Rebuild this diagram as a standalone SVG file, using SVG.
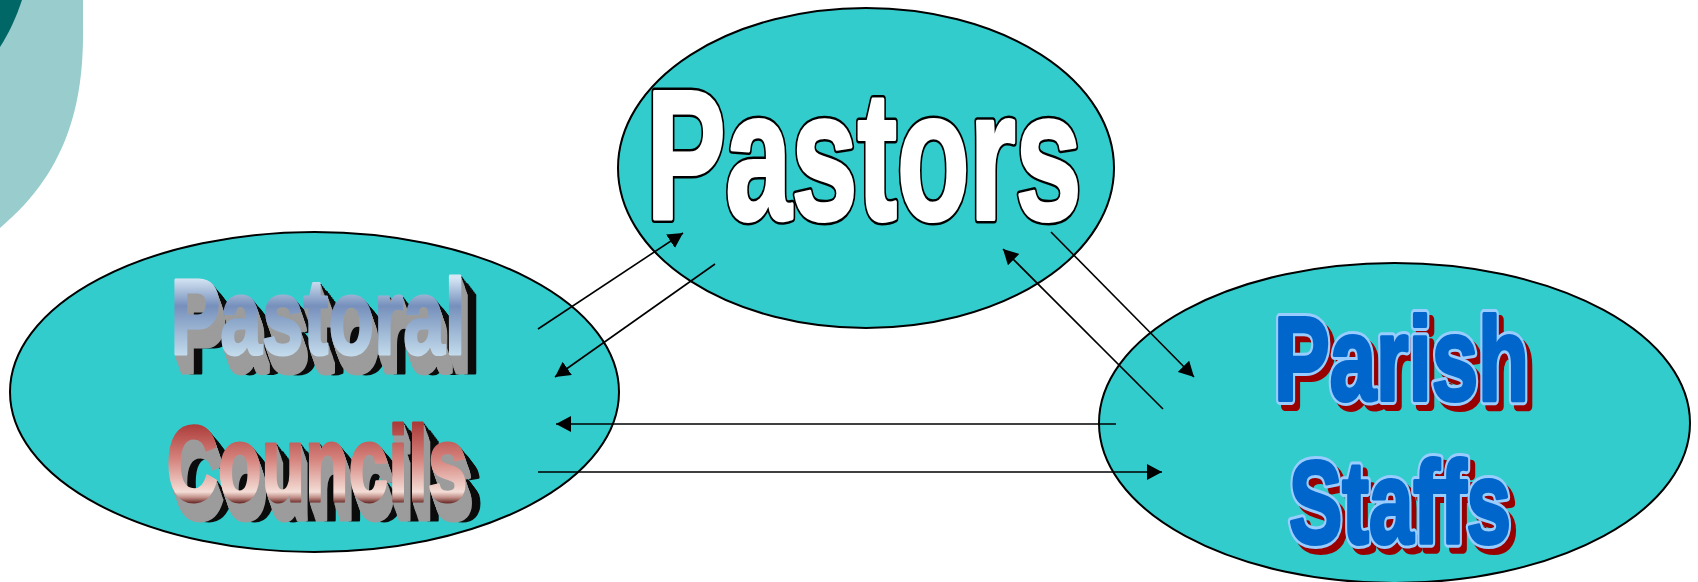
<svg xmlns="http://www.w3.org/2000/svg" xmlns:xlink="http://www.w3.org/1999/xlink" width="1698" height="582" viewBox="0 0 1698 582">
  <style>
    .node { fill: #33cccc; stroke: #000; stroke-width: 2; }
    .link { stroke: #000; stroke-width: 1.6; fill: none; marker-end: url(#head); }
    .heavy { font-family: "Liberation Sans", Arial, sans-serif; font-weight: bold; stroke-linejoin: round; }
    .ext-dark { fill: #0c0c0c; stroke: #0c0c0c; stroke-width: 3; }
    .ext-grey { fill: #9c9c9c; stroke: #9c9c9c; stroke-width: 3; }
    .staff-rim { fill: #99ccff; stroke: #99ccff; stroke-width: 10; }
    .staff-body { fill: #0066cc; stroke: #0066cc; stroke-width: 4; }
    .staff-shadow { fill: #990000; stroke: #990000; stroke-width: 10; }
  </style>
  <defs>
    <marker id="head" markerUnits="userSpaceOnUse" markerWidth="16" markerHeight="16" refX="15" refY="8" orient="auto">
      <path d="M0,0 L15,8 L0,16 Z" fill="#000"/>
    </marker>
    <linearGradient id="gPastoral" gradientUnits="userSpaceOnUse" x1="0" y1="278" x2="0" y2="356">
      <stop offset="0" stop-color="#d6e6f4"/>
      <stop offset="0.36" stop-color="#7690bc"/>
      <stop offset="1" stop-color="#c4dcec"/>
    </linearGradient>
    <linearGradient id="gCouncils" gradientUnits="userSpaceOnUse" x1="0" y1="424" x2="0" y2="503">
      <stop offset="0" stop-color="#ac3c3a"/>
      <stop offset="0.45" stop-color="#d6847e"/>
      <stop offset="0.86" stop-color="#f3ddd6"/>
      <stop offset="0.93" stop-color="#c09088"/>
      <stop offset="1" stop-color="#6a2a28"/>
    </linearGradient>
    <text id="tPastors" class="heavy" x="864" y="218.5" font-size="183" text-anchor="middle" textLength="435" lengthAdjust="spacingAndGlyphs">Pastors</text>
    <text id="tPastoral" class="heavy" x="318" y="354" font-size="107" text-anchor="middle" textLength="295" lengthAdjust="spacingAndGlyphs">Pastoral</text>
    <text id="tCouncils" class="heavy" x="317" y="501" font-size="107" text-anchor="middle" textLength="301" lengthAdjust="spacingAndGlyphs">Councils</text>
    <text id="tParish" class="heavy" x="1401.5" y="400" font-size="119" text-anchor="middle" textLength="255" lengthAdjust="spacingAndGlyphs">Parish</text>
    <text id="tStaffs" class="heavy" x="1400" y="543" font-size="116" text-anchor="middle" textLength="222" lengthAdjust="spacingAndGlyphs">Staffs</text>
    <!-- depth sweep: dark side faces along the full extrusion vector, grey under-faces on top -->
    <g id="sweepDarkPastoral">
      <use xlink:href="#tPastoral" x="15" y="19"/><use xlink:href="#tPastoral" x="13.5" y="17"/>
      <use xlink:href="#tPastoral" x="12" y="15"/><use xlink:href="#tPastoral" x="10.5" y="13"/>
      <use xlink:href="#tPastoral" x="9" y="11"/><use xlink:href="#tPastoral" x="7.5" y="9"/>
      <use xlink:href="#tPastoral" x="6" y="7.5"/><use xlink:href="#tPastoral" x="4.5" y="5.5"/>
      <use xlink:href="#tPastoral" x="3" y="3.5"/><use xlink:href="#tPastoral" x="1.5" y="2"/>
    </g>
    <g id="sweepGreyPastoral">
      <use xlink:href="#tPastoral" x="6.5" y="19"/><use xlink:href="#tPastoral" x="5.8" y="17"/>
      <use xlink:href="#tPastoral" x="5.1" y="15"/><use xlink:href="#tPastoral" x="4.4" y="13"/>
      <use xlink:href="#tPastoral" x="3.7" y="11"/><use xlink:href="#tPastoral" x="3" y="9"/>
      <use xlink:href="#tPastoral" x="2.3" y="7"/><use xlink:href="#tPastoral" x="1.6" y="5"/>
      <use xlink:href="#tPastoral" x="0.9" y="3"/>
    </g>
    <g id="sweepDarkCouncils">
      <use xlink:href="#tCouncils" x="15" y="19"/><use xlink:href="#tCouncils" x="13.5" y="17"/>
      <use xlink:href="#tCouncils" x="12" y="15"/><use xlink:href="#tCouncils" x="10.5" y="13"/>
      <use xlink:href="#tCouncils" x="9" y="11"/><use xlink:href="#tCouncils" x="7.5" y="9"/>
      <use xlink:href="#tCouncils" x="6" y="7.5"/><use xlink:href="#tCouncils" x="4.5" y="5.5"/>
      <use xlink:href="#tCouncils" x="3" y="3.5"/><use xlink:href="#tCouncils" x="1.5" y="2"/>
    </g>
    <g id="sweepGreyCouncils">
      <use xlink:href="#tCouncils" x="6.5" y="19"/><use xlink:href="#tCouncils" x="5.8" y="17"/>
      <use xlink:href="#tCouncils" x="5.1" y="15"/><use xlink:href="#tCouncils" x="4.4" y="13"/>
      <use xlink:href="#tCouncils" x="3.7" y="11"/><use xlink:href="#tCouncils" x="3" y="9"/>
      <use xlink:href="#tCouncils" x="2.3" y="7"/><use xlink:href="#tCouncils" x="1.6" y="5"/>
      <use xlink:href="#tCouncils" x="0.9" y="3"/>
    </g>
  </defs>

  <!-- corner decoration -->
  <path d="M0,0 L83,0 L83,25 C84,95 72,168 0,228 Z" fill="#99cccc"/>
  <path d="M0,0 L22,0 C16,18 9,33 0,47 Z" fill="#006666"/>

  <g id="node-pastors">
    <ellipse class="node" cx="866" cy="168" rx="248" ry="160"/>
    <use xlink:href="#tPastors" fill="#000" stroke="#000" stroke-width="9"/>
    <use xlink:href="#tPastors" fill="#fff" stroke="#fff" stroke-width="4"/>
  </g>

  <g id="node-councils">
    <ellipse class="node" cx="314.5" cy="392" rx="304.5" ry="160"/>
    <use xlink:href="#sweepDarkPastoral" class="ext-dark"/>
    <use xlink:href="#sweepGreyPastoral" class="ext-grey"/>
    <use xlink:href="#tPastoral" fill="url(#gPastoral)" stroke="url(#gPastoral)" stroke-width="3"/>
    <use xlink:href="#sweepDarkCouncils" class="ext-dark"/>
    <use xlink:href="#sweepGreyCouncils" class="ext-grey"/>
    <use xlink:href="#tCouncils" fill="url(#gCouncils)" stroke="url(#gCouncils)" stroke-width="3"/>
  </g>

  <g id="node-staffs">
    <ellipse class="node" cx="1394.5" cy="423" rx="295.5" ry="160"/>
    <use xlink:href="#tParish" class="staff-shadow" x="5" y="6"/>
    <use xlink:href="#tParish" class="staff-rim"/>
    <use xlink:href="#tParish" class="staff-body"/>
    <use xlink:href="#tStaffs" class="staff-shadow" x="5" y="6"/>
    <use xlink:href="#tStaffs" class="staff-rim"/>
    <use xlink:href="#tStaffs" class="staff-body"/>
  </g>

  <g id="connectors">
    <line class="link" x1="538" y1="329" x2="683" y2="233"/>
    <line class="link" x1="715" y1="264" x2="555" y2="377"/>
    <line class="link" x1="1051" y1="232" x2="1194" y2="377"/>
    <line class="link" x1="1163" y1="409" x2="1003" y2="249"/>
    <line class="link" x1="1116" y1="424" x2="556" y2="424"/>
    <line class="link" x1="538" y1="472" x2="1162" y2="472"/>
  </g>
</svg>
